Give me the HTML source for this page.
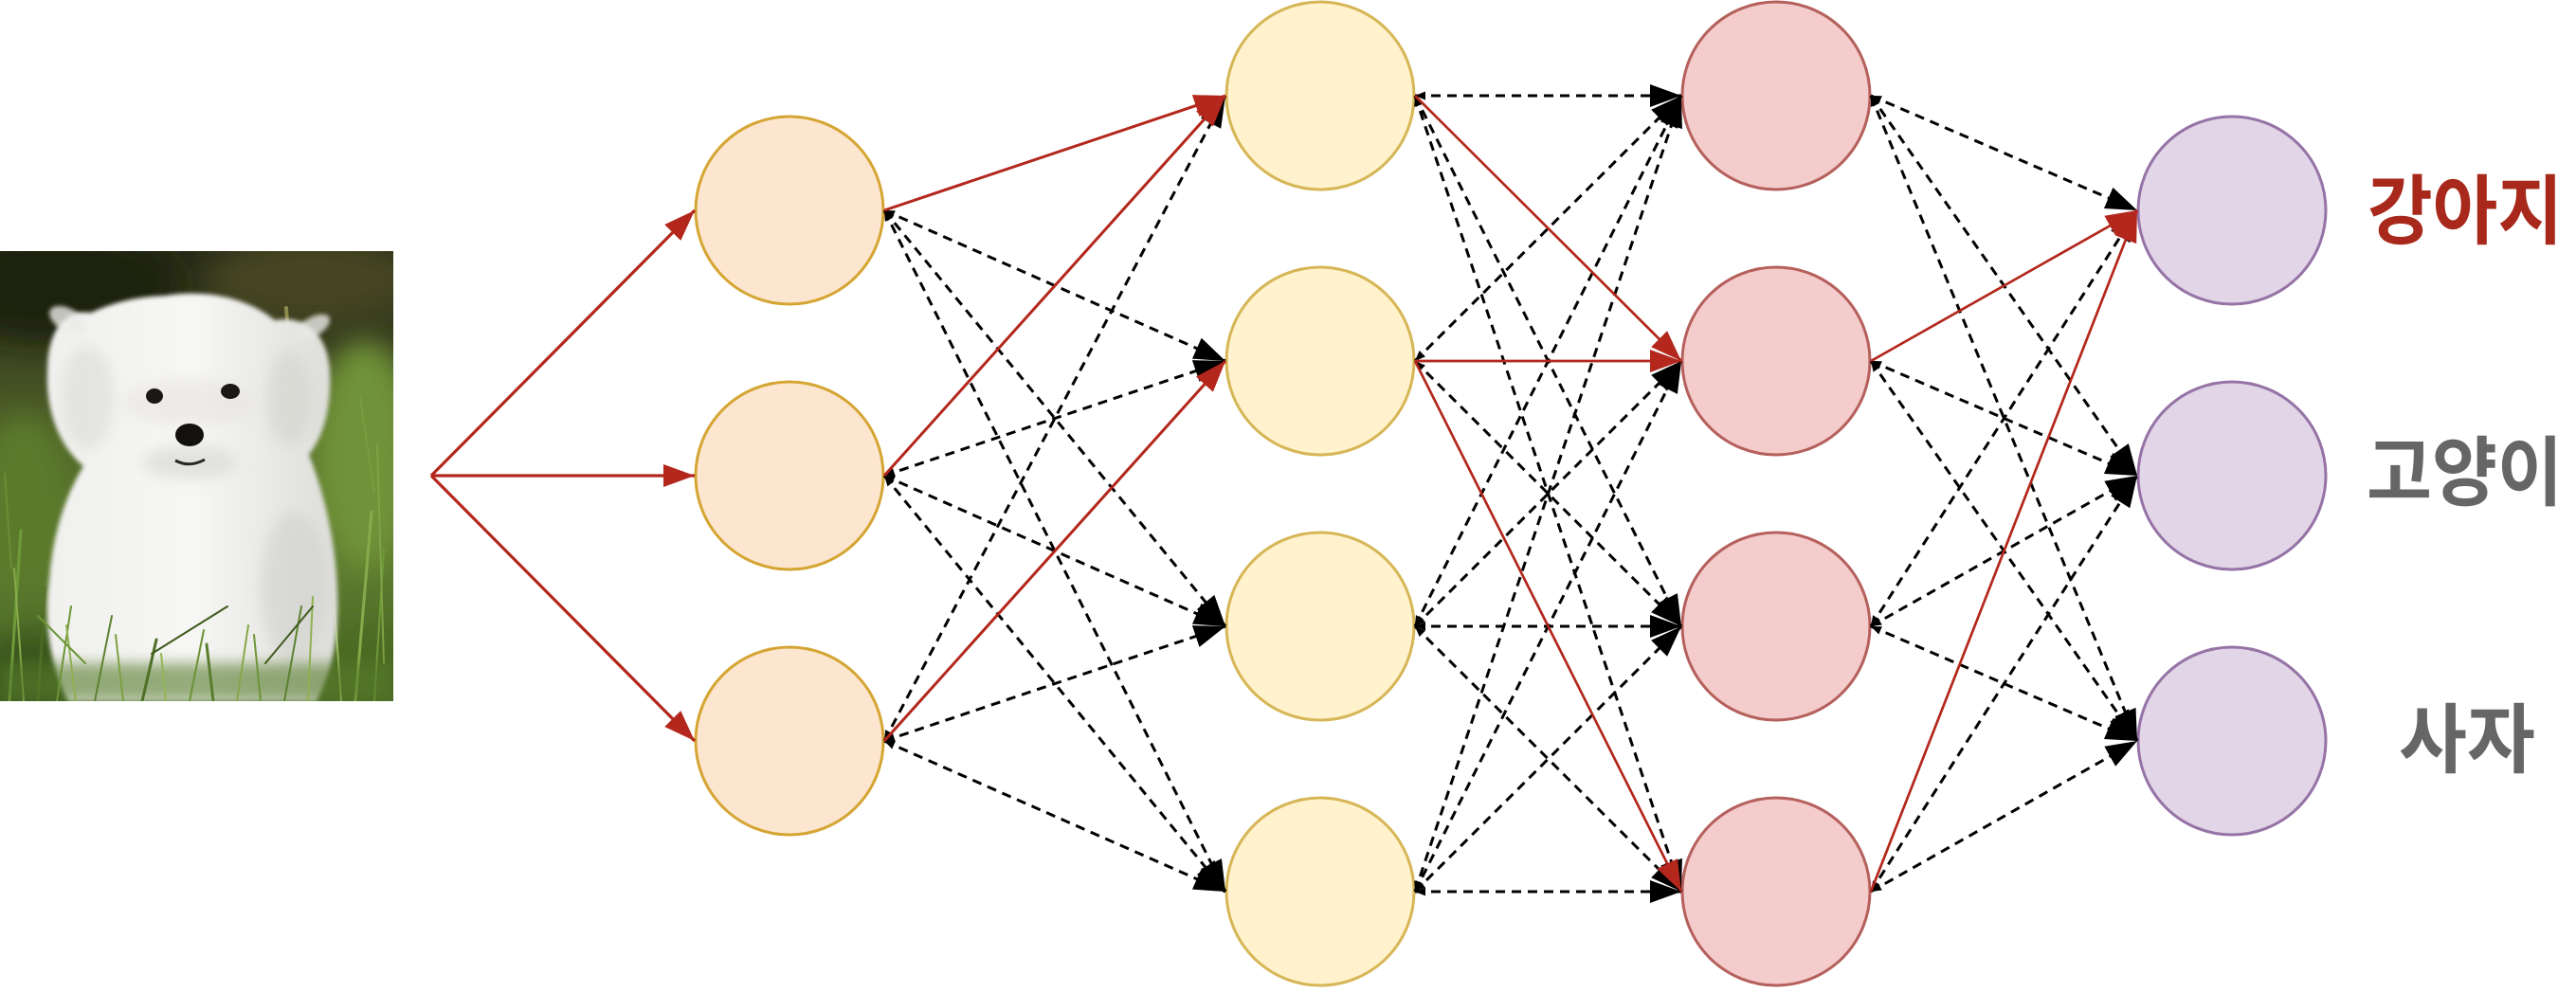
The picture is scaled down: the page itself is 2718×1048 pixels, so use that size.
<!DOCTYPE html>
<html><head><meta charset="utf-8">
<style>
html,body{margin:0;padding:0;background:#ffffff;}
svg{display:block;}
</style></head><body>
<svg width="2718" height="1048" viewBox="0 0 2718 1048" xmlns="http://www.w3.org/2000/svg">
<defs>
  <marker id="ab" markerUnits="userSpaceOnUse" markerWidth="34" markerHeight="24" refX="33" refY="12" orient="auto" overflow="visible"><path d="M0,0 L33,12 L0,24 Z" fill="#000"/></marker>
  <marker id="ar" markerUnits="userSpaceOnUse" markerWidth="34" markerHeight="24" refX="33" refY="12" orient="auto" overflow="visible"><path d="M0,0 L33,12 L0,24 Z" fill="#b3271c"/></marker>
  <marker id="sb" markerUnits="userSpaceOnUse" markerWidth="11" markerHeight="9" refX="0" refY="4.5" orient="auto" overflow="visible"><path d="M0,4.5 L11,0 L11,9 Z" fill="#000"/></marker>
  <clipPath id="dc"><rect x="0" y="265" width="415" height="475"/></clipPath>
  <linearGradient id="bgg" x1="0" y1="265" x2="0" y2="740" gradientUnits="userSpaceOnUse">
    <stop offset="0" stop-color="#2a2c18"/>
    <stop offset="0.2" stop-color="#383f1f"/>
    <stop offset="0.42" stop-color="#52672a"/>
    <stop offset="0.7" stop-color="#5c7a2e"/>
    <stop offset="1" stop-color="#4a6826"/>
  </linearGradient>
  <linearGradient id="dogg" x1="50" y1="0" x2="360" y2="0" gradientUnits="userSpaceOnUse">
    <stop offset="0" stop-color="#f0f0ee"/>
    <stop offset="0.5" stop-color="#f6f6f4"/>
    <stop offset="1" stop-color="#dcdcd8"/>
  </linearGradient>
  <filter id="bl" x="-50%" y="-50%" width="200%" height="200%"><feGaussianBlur stdDeviation="14"/></filter>
  <filter id="bl2" x="-20%" y="-20%" width="140%" height="140%"><feGaussianBlur stdDeviation="2.5"/></filter>
  <filter id="bl3" x="-50%" y="-50%" width="200%" height="200%"><feGaussianBlur stdDeviation="7"/></filter>
</defs>

<!-- Dog photo approximation -->
<g clip-path="url(#dc)">
  <rect x="0" y="265" width="415" height="475" fill="url(#bgg)"/>
  <ellipse cx="60" cy="300" rx="130" ry="60" fill="#1d2011" filter="url(#bl)"/>
  <ellipse cx="330" cy="295" rx="110" ry="45" fill="#454424" filter="url(#bl)"/>
  <ellipse cx="385" cy="480" rx="55" ry="120" fill="#6f9238" filter="url(#bl)"/>
  <ellipse cx="25" cy="530" rx="45" ry="90" fill="#5b7a2c" filter="url(#bl)"/>
  <ellipse cx="40" cy="710" rx="70" ry="45" fill="#3a561d" filter="url(#bl)"/>
  <ellipse cx="390" cy="705" rx="60" ry="45" fill="#4b6a23" filter="url(#bl)"/>
  <g stroke-linecap="round" fill="none">
    <path d="M10,740 L22,560" stroke="#6f9a3a" stroke-width="3"/>
    <path d="M25,740 L15,600" stroke="#86ab4c" stroke-width="2"/>
    <path d="M40,740 L48,620" stroke="#4b6a22" stroke-width="3"/>
    <path d="M375,740 L392,540" stroke="#86ab4c" stroke-width="3"/>
    <path d="M395,740 L405,580" stroke="#6f9a3a" stroke-width="2"/>
    <path d="M360,740 L350,600" stroke="#9cbd5c" stroke-width="2"/>
    <path d="M405,700 L398,470" stroke="#7ea244" stroke-width="2"/>
    <path d="M302,325 L306,385" stroke="#8a8a4a" stroke-width="4"/>
    <path d="M380,420 L395,520" stroke="#7a9c40" stroke-width="2"/>
    <path d="M5,500 L12,600" stroke="#6a8e34" stroke-width="2"/>
  </g>
  <!-- dog silhouette -->
  <path filter="url(#bl2)" fill="url(#dogg)" d="M175,312 C220,305 262,315 290,338 C322,332 346,352 348,392 C350,432 340,462 326,480 C346,530 358,592 356,650 C355,690 345,718 334,740 L72,740 C52,702 46,652 52,612 C56,560 70,522 88,492 C62,470 48,432 50,392 C50,352 66,326 96,330 C122,318 146,313 175,312 Z"/>
  <!-- soft fur tufts -->
  <ellipse cx="72" cy="338" rx="22" ry="12" fill="#ececea" opacity="0.8" filter="url(#bl2)" transform="rotate(30 72 338)"/>
  <ellipse cx="330" cy="345" rx="20" ry="10" fill="#e8e8e5" opacity="0.8" filter="url(#bl2)" transform="rotate(-30 330 345)"/>
  <!-- shading -->
  <ellipse cx="92" cy="420" rx="28" ry="55" fill="#d9d9d4" opacity="0.55" filter="url(#bl3)"/>
  <ellipse cx="305" cy="420" rx="24" ry="50" fill="#d3d3ce" opacity="0.6" filter="url(#bl3)"/>
  <ellipse cx="310" cy="620" rx="35" ry="80" fill="#cfd0cb" opacity="0.55" filter="url(#bl3)"/>
  <ellipse cx="200" cy="488" rx="50" ry="18" fill="#dadad5" opacity="0.7" filter="url(#bl3)"/>
  <ellipse cx="200" cy="425" rx="70" ry="25" fill="#e6e2dd" opacity="0.5" filter="url(#bl3)"/>
  <!-- eyes & nose -->
  <ellipse cx="163" cy="418" rx="9" ry="8" fill="#1a1714"/>
  <ellipse cx="243" cy="413" rx="10" ry="8" fill="#1a1714"/>
  <ellipse cx="200" cy="459" rx="15" ry="12" fill="#121110"/>
  <path d="M185,486 Q200,494 216,485" stroke="#2a2623" stroke-width="3" fill="none"/>
  <!-- foreground grass -->
  <rect x="0" y="700" width="415" height="40" fill="#557a2a" opacity="0.6" filter="url(#bl3)"/>
  <g stroke-linecap="round" fill="none">
    <path d="M60,740 L75,640" stroke="#6e9437" stroke-width="2"/>
    <path d="M80,740 L70,660" stroke="#8fb052" stroke-width="2"/>
    <path d="M100,740 L118,650" stroke="#5d8130" stroke-width="2"/>
    <path d="M130,740 L122,670" stroke="#7ca142" stroke-width="2"/>
    <path d="M150,740 L165,675" stroke="#4f7026" stroke-width="3"/>
    <path d="M175,740 L170,690" stroke="#93b456" stroke-width="2"/>
    <path d="M200,740 L215,665" stroke="#6c9236" stroke-width="2"/>
    <path d="M225,740 L218,680" stroke="#5a7d2d" stroke-width="3"/>
    <path d="M250,740 L262,660" stroke="#86a84a" stroke-width="2"/>
    <path d="M275,740 L268,670" stroke="#6e9437" stroke-width="2"/>
    <path d="M300,740 L318,640" stroke="#5d8130" stroke-width="2"/>
    <path d="M325,740 L330,630" stroke="#8fb052" stroke-width="2"/>
    <path d="M160,690 L240,640" stroke="#3f5a1c" stroke-width="2"/>
    <path d="M280,700 L330,640" stroke="#3f5a1c" stroke-width="2"/>
    <path d="M90,700 L40,650" stroke="#6e9437" stroke-width="2"/>
  </g>
</g>

<!-- Nodes -->
<g stroke-width="3">
  <circle cx="833" cy="222" r="99" fill="#fce6cf" stroke="#d5a534"/>
  <circle cx="833" cy="502" r="99" fill="#fce6cf" stroke="#d5a534"/>
  <circle cx="833" cy="782" r="99" fill="#fce6cf" stroke="#d5a534"/>

  <circle cx="1393" cy="101" r="99" fill="#fff2cc" stroke="#d6b656"/>
  <circle cx="1393" cy="381" r="99" fill="#fff2cc" stroke="#d6b656"/>
  <circle cx="1393" cy="661" r="99" fill="#fff2cc" stroke="#d6b656"/>
  <circle cx="1393" cy="941" r="99" fill="#fff2cc" stroke="#d6b656"/>

  <circle cx="1874" cy="101" r="99" fill="#f4cccb" stroke="#b5605c"/>
  <circle cx="1874" cy="381" r="99" fill="#f4cccb" stroke="#b5605c"/>
  <circle cx="1874" cy="661" r="99" fill="#f4cccb" stroke="#b5605c"/>
  <circle cx="1874" cy="941" r="99" fill="#f4cccb" stroke="#b5605c"/>

  <circle cx="2355" cy="222" r="99" fill="#e1d5e7" stroke="#9673a6"/>
  <circle cx="2355" cy="502" r="99" fill="#e1d5e7" stroke="#9673a6"/>
  <circle cx="2355" cy="782" r="99" fill="#e1d5e7" stroke="#9673a6"/>
</g>

<!-- Dashed edges -->
<g stroke="#000" stroke-width="3" stroke-dasharray="10 7" fill="none" marker-end="url(#ab)" marker-start="url(#sb)">
  <line x1="933" y1="222" x2="1293" y2="381"/>
  <line x1="933" y1="222" x2="1293" y2="661"/>
  <line x1="933" y1="222" x2="1293" y2="941"/>
  <line x1="933" y1="502" x2="1293" y2="381"/>
  <line x1="933" y1="502" x2="1293" y2="661"/>
  <line x1="933" y1="502" x2="1293" y2="941"/>
  <line x1="933" y1="782" x2="1293" y2="101"/>
  <line x1="933" y1="782" x2="1293" y2="661"/>
  <line x1="933" y1="782" x2="1293" y2="941"/>

  <line x1="1493" y1="101" x2="1774" y2="101"/>
  <line x1="1493" y1="101" x2="1774" y2="661"/>
  <line x1="1493" y1="101" x2="1774" y2="941"/>
  <line x1="1493" y1="381" x2="1774" y2="101"/>
  <line x1="1493" y1="381" x2="1774" y2="661"/>
  <line x1="1493" y1="661" x2="1774" y2="101"/>
  <line x1="1493" y1="661" x2="1774" y2="381"/>
  <line x1="1493" y1="661" x2="1774" y2="661"/>
  <line x1="1493" y1="661" x2="1774" y2="941"/>
  <line x1="1493" y1="941" x2="1774" y2="101"/>
  <line x1="1493" y1="941" x2="1774" y2="381"/>
  <line x1="1493" y1="941" x2="1774" y2="661"/>
  <line x1="1493" y1="941" x2="1774" y2="941"/>

  <line x1="1974" y1="101" x2="2255" y2="222"/>
  <line x1="1974" y1="101" x2="2255" y2="502"/>
  <line x1="1974" y1="101" x2="2255" y2="782"/>
  <line x1="1974" y1="381" x2="2255" y2="502"/>
  <line x1="1974" y1="381" x2="2255" y2="782"/>
  <line x1="1974" y1="661" x2="2255" y2="222"/>
  <line x1="1974" y1="661" x2="2255" y2="502"/>
  <line x1="1974" y1="661" x2="2255" y2="782"/>
  <line x1="1974" y1="941" x2="2255" y2="502"/>
  <line x1="1974" y1="941" x2="2255" y2="782"/>
</g>

<!-- Red edges -->
<g stroke="#b3271c" fill="none" marker-end="url(#ar)">
  <line x1="455" y1="502" x2="733" y2="222" stroke-width="3.2"/>
  <line x1="455" y1="502" x2="733" y2="502" stroke-width="3.2"/>
  <line x1="455" y1="502" x2="733" y2="782" stroke-width="3.2"/>

  <line x1="933" y1="222" x2="1293" y2="101" stroke-width="3"/>
  <line x1="933" y1="502" x2="1293" y2="101" stroke-width="3"/>
  <line x1="933" y1="782" x2="1293" y2="381" stroke-width="3"/>

  <line x1="1493" y1="101" x2="1774" y2="381" stroke-width="2.7"/>
  <line x1="1493" y1="381" x2="1774" y2="381" stroke-width="2.7"/>
  <line x1="1493" y1="381" x2="1774" y2="941" stroke-width="2.7"/>

  <line x1="1974" y1="381" x2="2255" y2="222" stroke-width="2.7"/>
  <line x1="1974" y1="941" x2="2255" y2="222" stroke-width="2.7"/>
</g>

<!-- Labels -->
<g font-family="'Liberation Sans','Noto Sans CJK KR','NanumGothic',sans-serif" font-weight="bold" font-size="80">
  <text x="2498" y="251" textLength="206" lengthAdjust="spacingAndGlyphs" fill="#a8291b">강아지</text>
  <text x="2497" y="527" textLength="207" lengthAdjust="spacingAndGlyphs" fill="#666666">고양이</text>
  <text x="2531" y="809" textLength="144" lengthAdjust="spacingAndGlyphs" fill="#666666">사자</text>
</g>
</svg>
</body></html>
